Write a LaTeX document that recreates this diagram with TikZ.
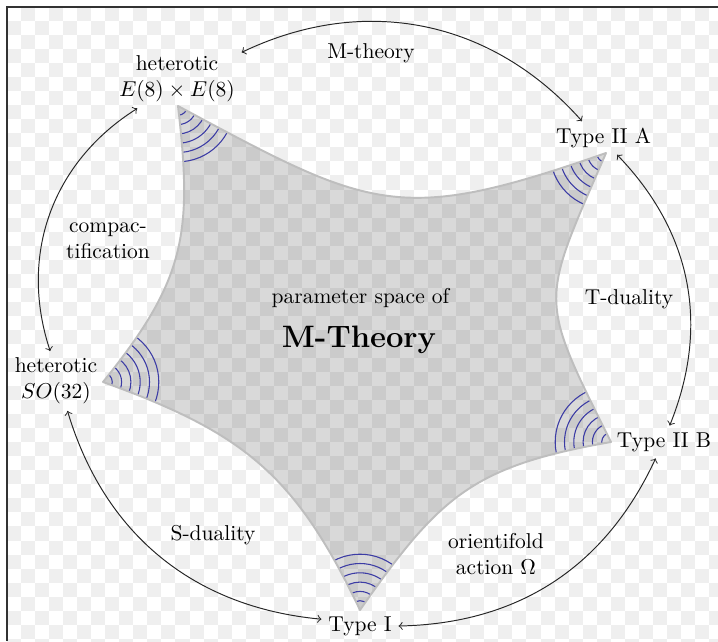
\documentclass[tikz,border=0pt]{standalone}
\definecolor{arccol}{RGB}{60,60,165}
\definecolor{chk}{RGB}{239,239,239}
\definecolor{framecol}{RGB}{50,50,50}
\definecolor{staredge}{RGB}{190,190,190}
\tikzset{
  lbl/.style={inner sep=3pt, align=center},
  arr/.style={<->, line width=0.45pt, draw=black!85},
  ring/.style={draw=arccol, line width=0.5pt},
  starfill/.style={fill=black, fill opacity=0.15},
  starline/.style={draw=staredge, line width=0.9pt, line join=round},
}
\begin{document}
\begin{tikzpicture}[x=0.465pt,y=0.465pt]
\useasboundingbox (0,0) rectangle (718,641);
\fill[white] (0,0) rectangle (718,641);
% checkerboard
\begin{scope}
\clip (7,0) rectangle (718,634);
\foreach \j in {0,...,45}{
  \foreach \k in {0,...,25}{
    \pgfmathsetmacro\xa{7+14.04*(2*\k+mod(\j+1,2))}
    \pgfmathsetmacro\ya{634-14.04*\j}
    \fill[chk] (\xa,\ya) rectangle ++(14.04,-14.04);
  }
}
\end{scope}
\draw[framecol, line width=0.7pt] (7,0) -- (7,634) -- (718,634);
% star tips
\coordinate (pTL) at (178,535);
\coordinate (pTR) at (606,488);
\coordinate (pR) at (611,199);
\coordinate (pB) at (360,31);
\coordinate (pL) at (103,259);
\fill[starfill] (pTL) .. controls (371.8,430.9) and (398.3,415.4) .. (pTR)
  .. controls (540.5,336.5) and (537.2,346.5) .. (pR)
  .. controls (473.1,174.8) and (440.2,145.7) .. (pB)
  .. controls (295.3,166.3) and (244.2,208.1) .. (pL)
  .. controls (184.6,360.1) and (193.1,405.9) .. cycle;
\begin{scope}
\clip (pTL) .. controls (371.8,430.9) and (398.3,415.4) .. (pTR)
  .. controls (540.5,336.5) and (537.2,346.5) .. (pR)
  .. controls (473.1,174.8) and (440.2,145.7) .. (pB)
  .. controls (295.3,166.3) and (244.2,208.1) .. (pL)
  .. controls (184.6,360.1) and (193.1,405.9) .. cycle;
\foreach \p in {pTL,pTR,pR,pB,pL}{
  \foreach \r in {9.3,18.6,27.9,37.2,46.5,55.8}{
    \draw[ring] (\p) circle[radius=\r];
  }
}
\end{scope}
\draw[starline] (pTL) .. controls (371.8,430.9) and (398.3,415.4) .. (pTR)
  .. controls (540.5,336.5) and (537.2,346.5) .. (pR)
  .. controls (473.1,174.8) and (440.2,145.7) .. (pB)
  .. controls (295.3,166.3) and (244.2,208.1) .. (pL)
  .. controls (184.6,360.1) and (193.1,405.9) .. cycle;
% labels
\node[lbl] (het8) at (177,562.5) {heterotic\\$E(8)\times E(8)$};
\node[lbl] (IIA) at (603.5,503) {Type II A};
\node[lbl] (so32) at (56,260) {heterotic\\$SO(32)$};
\node[lbl] (IIB) at (664,199) {Type II B};
\node[lbl] (typeI) at (360,15) {Type I};
\node[lbl] (param) at (360.5,342.5) {parameter space of};
\node[lbl, font=\Large\bfseries] (mth) at (359,301) {M-Theory};
\node[lbl] (lblM) at (371,588) {M-theory};
\node[lbl] (lblC) at (108,400) {compac-\\tification};
\node[lbl] (lblT) at (629,341.5) {T-duality};
\node[lbl] (lblS) at (213,106) {S-duality};
\node[lbl] (lblO) at (496,87) {orientifold\\action $\Omega$};
% arrows
\draw[arr] (het8.22) to[bend left=37] (IIA.142);
\draw[arr] (IIA.309) to[bend left=33] (IIB.71);
\draw[arr] (IIB.243) to[bend left=32] (typeI.0);
\draw[arr] (typeI.170) to[bend left=34] (so32.291);
\draw[arr] (so32.101) to[bend left=38] (het8.217);
\end{tikzpicture}
\end{document}
